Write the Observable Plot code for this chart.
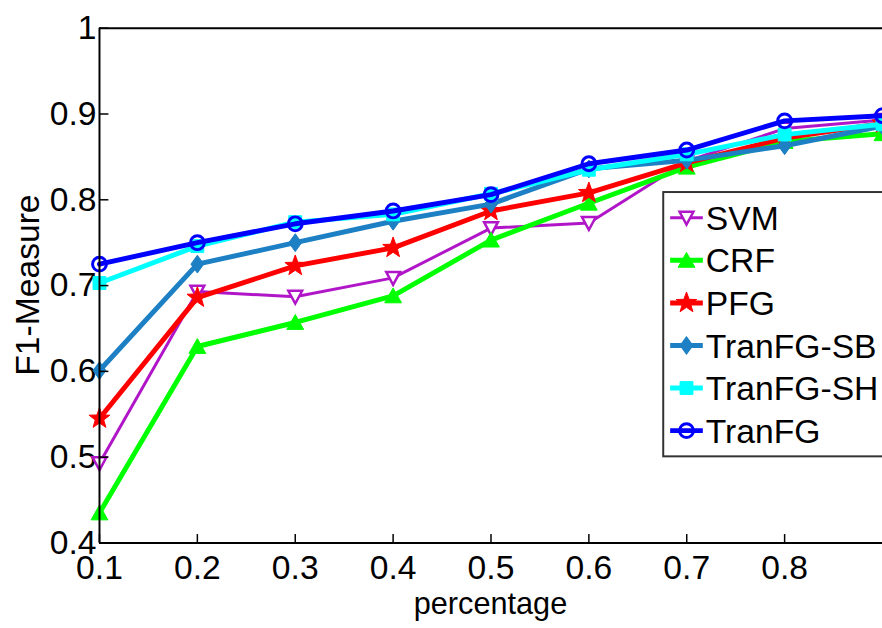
<!DOCTYPE html>
<html><head><meta charset="utf-8">
<script src="https://cdn.jsdelivr.net/npm/d3@7"></script>
<script src="https://cdn.jsdelivr.net/npm/@observablehq/plot@0.6"></script>
<style>
html,body{margin:0;padding:0;overflow:hidden;background:#fff;width:882px;height:628px}
#chart{width:882px;height:628px;overflow:hidden}
</style>
</head><body><div id="chart"></div>
<script>
// ---- data ----
const percentage = [0.1, 0.2, 0.3, 0.4, 0.5, 0.6, 0.7, 0.8, 0.9];
const seriesNames = ["SVM", "CRF", "PFG", "TranFG-SB", "TranFG-SH", "TranFG"];
const svm      = [0.493, 0.693, 0.687, 0.709, 0.767, 0.773, 0.845, 0.883, 0.893];
const crf      = [0.435, 0.629, 0.657, 0.688, 0.753, 0.796, 0.838, 0.868, 0.877];
const pfg      = [0.545, 0.686, 0.723, 0.744, 0.787, 0.808, 0.843, 0.872, 0.889];
const tranfgSB = [0.601, 0.725, 0.750, 0.775, 0.795, 0.836, 0.846, 0.863, 0.886];
const tranfgSH = [0.703, 0.746, 0.774, 0.783, 0.807, 0.835, 0.853, 0.876, 0.888];
const tranfg   = [0.725, 0.750, 0.772, 0.787, 0.806, 0.842, 0.858, 0.892, 0.898];
const xTicks = [0.1, 0.2, 0.3, 0.4, 0.5, 0.6, 0.7, 0.8];
const yTicks = [0.4, 0.5, 0.6, 0.7, 0.8, 0.9, 1];
const xTitle = "percentage";
const yTitle = "F1-Measure";

// ---- styles ----
const colors = ["#b016c8", "#00ff00", "#ff0000", "#1d80c4", "#00ffff", "#0000ff"];
const values = [svm, crf, pfg, tranfgSB, tranfgSH, tranfg];

const sym = {
  triDown: {draw(c){c.moveTo(-7,-6);c.lineTo(7,-6);c.lineTo(0,7);c.closePath();}},
  triUp: {draw(c){c.moveTo(-8.5,7);c.lineTo(8.5,7);c.lineTo(0,-8);c.closePath();}},
  star: {draw(c){const R=11,r=4.5;for(let i=0;i<10;i++){const a=-Math.PI/2+i*Math.PI/5;const rr=i%2?r:R;const px=rr*Math.cos(a),py=rr*Math.sin(a);i?c.lineTo(px,py):c.moveTo(px,py);}c.closePath();}},
  diamond: {draw(c){c.moveTo(0,-9);c.lineTo(6.5,0);c.lineTo(0,9);c.lineTo(-6.5,0);c.closePath();}},
  square: {draw(c){c.moveTo(-6.5,-6.5);c.lineTo(6.5,-6.5);c.lineTo(6.5,6.5);c.lineTo(-6.5,6.5);c.closePath();}},
  circle: {draw(c){c.moveTo(7,0);c.arc(0,0,7,0,2*Math.PI);c.closePath();}},
  tickR: {draw(c){c.moveTo(0,0);c.lineTo(9,0);}},
  tickU: {draw(c){c.moveTo(0,0);c.lineTo(0,-9);}}
};
const markerStyles = [
  {symbol: sym.triDown, fill: "white", strokeWidth: 2.5, lineWidth: 3},
  {symbol: sym.triUp, fill: null, strokeWidth: 1, lineWidth: 5},
  {symbol: sym.star, fill: null, strokeWidth: 1, lineWidth: 5},
  {symbol: sym.diamond, fill: null, strokeWidth: 1, lineWidth: 5},
  {symbol: sym.square, fill: null, strokeWidth: 1, lineWidth: 5},
  {symbol: sym.circle, fill: "none", strokeWidth: 3, lineWidth: 5}
];

const rows = seriesNames.map((name, i) => percentage.map((p, j) => ({name, p, v: values[i][j]})));

const marks = [];
rows.forEach((data, i) => {
  const st = markerStyles[i];
  marks.push(Plot.line(data, {x: "p", y: "v", stroke: colors[i], strokeWidth: st.lineWidth, strokeLinejoin: "round"}));
  marks.push(Plot.dot(data, {x: "p", y: "v", symbol: st.symbol, r: 5, stroke: colors[i], strokeWidth: st.strokeWidth, fill: st.fill === null ? colors[i] : st.fill}));
});
// frame + inward ticks
marks.push(Plot.ruleX([0.1], {stroke: "#000", strokeWidth: 2}));
marks.push(Plot.ruleY([0.4], {stroke: "#000", strokeWidth: 2}));
marks.push(Plot.ruleY([1], {stroke: "#000", strokeWidth: 2}));
marks.push(Plot.dot(yTicks, {x: () => 0.1, y: d => d, symbol: sym.tickR, r: 5, stroke: "#000", strokeWidth: 1.5, fill: "none"}));
marks.push(Plot.dot(xTicks, {x: d => d, y: () => 0.4, symbol: sym.tickU, r: 5, stroke: "#000", strokeWidth: 1.5, fill: "none"}));

const plot = Plot.plot({
  width: 891, height: 628,
  marginLeft: 100, marginRight: 0, marginTop: 28, marginBottom: 80,
  style: {fontFamily: "'Liberation Sans', Arial, sans-serif", fontSize: "34px", color: "#000", background: "white"},
  x: {domain: [0.1, 0.9], ticks: xTicks, tickSize: 0, tickPadding: 12, tickFormat: d => d.toFixed(1), label: null},
  y: {domain: [0.4, 1], ticks: yTicks, tickSize: 0, tickPadding: 3, tickFormat: d => d === 1 ? "1" : d.toFixed(1), label: null},
  marks
});
document.getElementById("chart").appendChild(plot);

// titles and legend
const svg = d3.select(plot);
const xs = plot.scale("x"), ys = plot.scale("y");
svg.append("text").text(xTitle)
  .attr("x", xs.apply(0.5)).attr("y", 620)
  .attr("text-anchor", "middle").attr("font-size", 31).attr("fill", "#000");
svg.append("text").text(yTitle)
  .attr("transform", `translate(39,${ys.apply(0.7)}) rotate(-90)`)
  .attr("text-anchor", "middle").attr("font-size", 34).attr("fill", "#000");

const lg = svg.append("g").attr("text-anchor", "start");
lg.append("rect").attr("x", 670).attr("y", 194).attr("width", 260).attr("height", 267)
  .attr("fill", "white").attr("stroke", "#333").attr("stroke-width", 2);
seriesNames.forEach((name, i) => {
  const cy = 220 + i * 43;
  const st = markerStyles[i];
  lg.append("line").attr("x1", 677).attr("x2", 710).attr("y1", cy).attr("y2", cy)
    .attr("stroke", colors[i]).attr("stroke-width", st.lineWidth);
  lg.append("path").attr("d", d3.symbol(st.symbol)())
    .attr("transform", `translate(693.5,${cy})`)
    .attr("fill", st.fill === null ? colors[i] : st.fill)
    .attr("stroke", colors[i]).attr("stroke-width", st.strokeWidth);
  lg.append("text").text(name).attr("x", 713).attr("y", cy).attr("dy", "0.36em")
    .attr("text-anchor", "start").attr("font-size", 34).attr("fill", "#000");
});
</script>
</body></html>
